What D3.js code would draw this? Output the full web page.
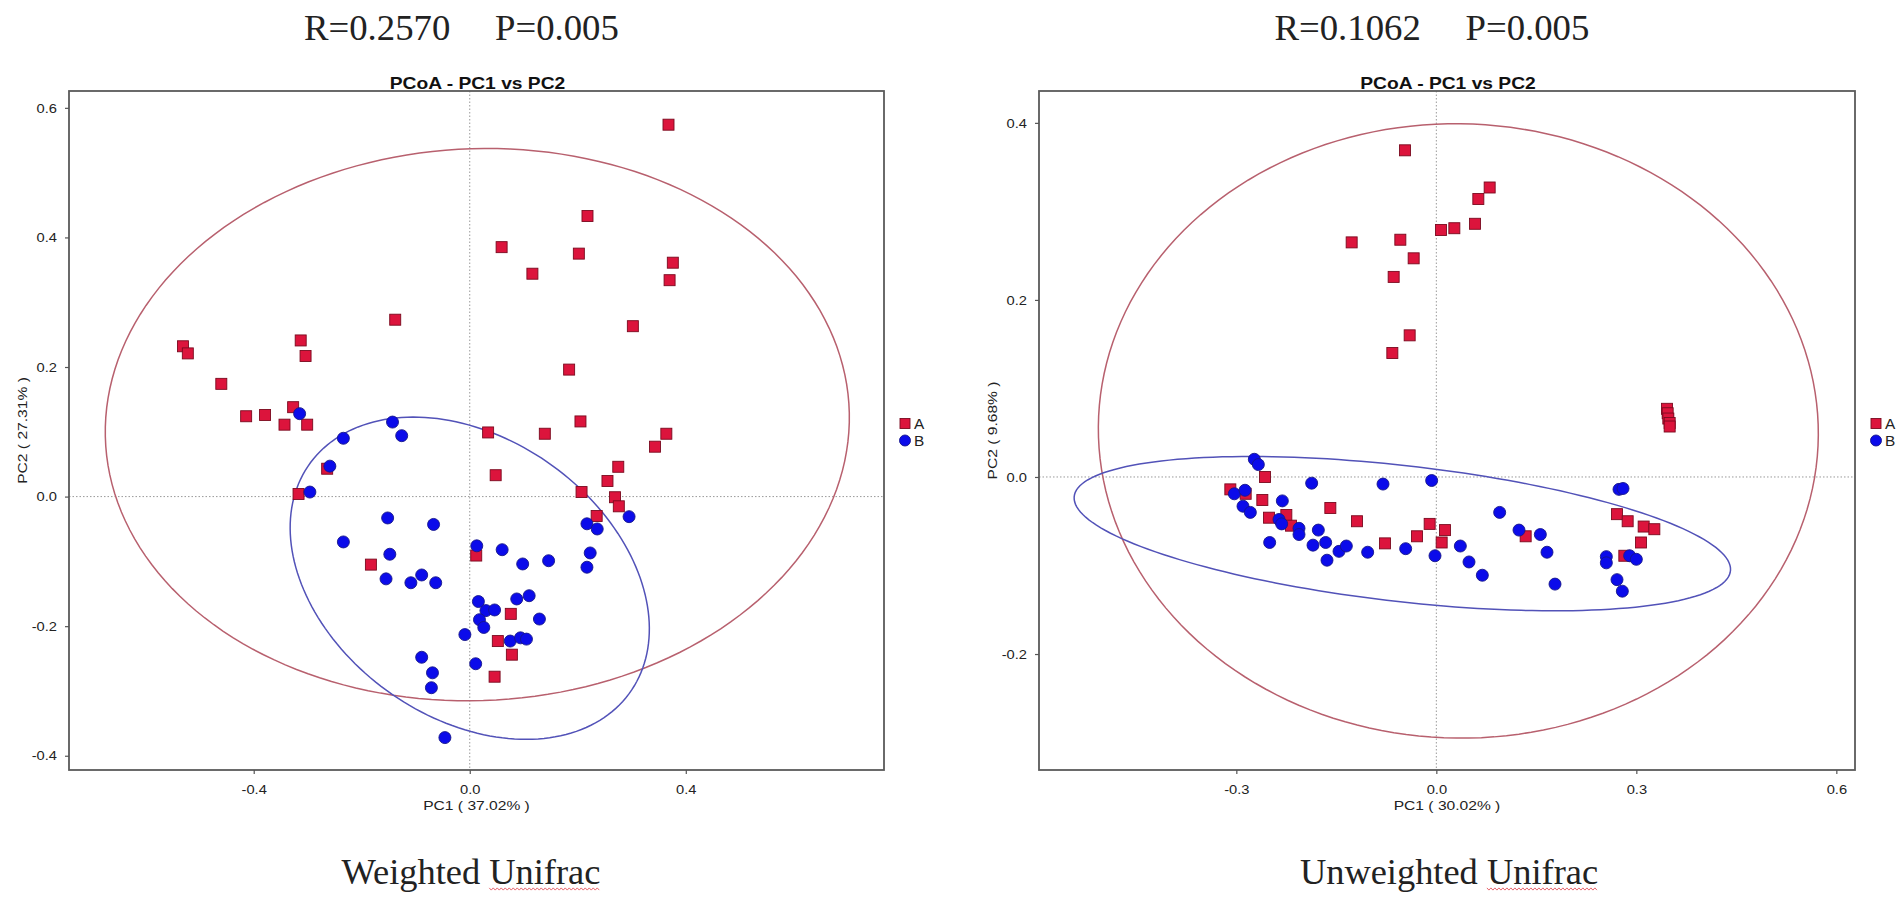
<!DOCTYPE html>
<html>
<head>
<meta charset="utf-8">
<script src="https://cdn.jsdelivr.net/npm/d3@7"></script>
<style>
  body { margin: 0; background: #fff; }
  svg { display: block; }
  .sans { font-family: "Liberation Sans", Arial, Helvetica, sans-serif; }
  .serif { font-family: "Liberation Serif", "Times New Roman", serif; }
  .tick text { font-family: "Liberation Sans", Arial, sans-serif; font-size: 13px; fill: #222; }
  .tick line { stroke: #555; stroke-width: 1.2; }
</style>
</head>
<body>
<svg id="chart" width="1902" height="906"></svg>
<script>
// ---------- data ----------
const groups = ['A', 'B'];

const weightedStats = ['R=0.2570', 'P=0.005'];
const unweightedStats = ['R=0.1062', 'P=0.005'];
const captions = ['Weighted Unifrac', 'Unweighted Unifrac'];
const plotTitle = 'PCoA - PC1 vs PC2';

const weightedAxisTitles = ['PC1 ( 37.02% )', 'PC2 ( 27.31% )'];
const unweightedAxisTitles = ['PC1 ( 30.02% )', 'PC2 ( 9.68% )'];

const weightedXTicks = [-0.4, 0, 0.4];
const weightedYTicks = [-0.4, -0.2, 0, 0.2, 0.4, 0.6];
const unweightedXTicks = [-0.3, 0, 0.3, 0.6];
const unweightedYTicks = [-0.2, 0, 0.2, 0.4];

// axis extents (data units)
const weightedXDomain = [-0.742, 0.767];
const weightedYDomain = [-0.422, 0.626];
const unweightedXDomain = [-0.596, 0.628];
const unweightedYDomain = [-0.331, 0.436];

// [PC1, PC2]
const weightedA = [
  [0.368, 0.574], [0.218, 0.433], [0.059, 0.385], [0.202, 0.375], [0.116, 0.344],
  [0.376, 0.361], [0.370, 0.334], [0.302, 0.263], [-0.138, 0.273], [-0.313, 0.241],
  [-0.304, 0.217], [-0.531, 0.232], [-0.522, 0.221], [-0.460, 0.174], [0.184, 0.196],
  [-0.414, 0.124], [-0.379, 0.126], [-0.327, 0.138], [-0.343, 0.111], [-0.301, 0.111],
  [0.205, 0.116], [0.034, 0.099], [0.139, 0.097], [0.364, 0.097], [0.343, 0.077],
  [0.048, 0.033], [0.275, 0.046], [0.255, 0.024], [0.207, 0.007], [0.269, -0.001],
  [0.276, -0.015], [0.235, -0.030], [-0.317, 0.004], [-0.264, 0.043], [0.012, -0.091],
  [-0.183, -0.105], [0.076, -0.181], [0.052, -0.223], [0.078, -0.244], [0.046, -0.278]
];
const weightedB = [
  [-0.315, 0.128], [-0.143, 0.115], [-0.126, 0.094], [-0.234, 0.090], [-0.259, 0.047],
  [-0.296, 0.007], [-0.152, -0.033], [-0.067, -0.043], [-0.234, -0.070], [-0.148, -0.089],
  [-0.155, -0.127], [-0.109, -0.133], [-0.089, -0.121], [-0.063, -0.133], [0.013, -0.076],
  [0.060, -0.082], [0.098, -0.104], [0.146, -0.099], [0.016, -0.162], [0.087, -0.158],
  [0.110, -0.153], [0.030, -0.176], [0.046, -0.175], [0.018, -0.190], [0.026, -0.202],
  [0.129, -0.189], [-0.009, -0.213], [0.075, -0.223], [0.094, -0.218], [0.105, -0.220],
  [-0.089, -0.248], [0.011, -0.258], [-0.069, -0.272], [-0.071, -0.295], [-0.046, -0.372],
  [0.217, -0.042], [0.236, -0.050], [0.295, -0.031], [0.223, -0.087], [0.217, -0.109]
];
const unweightedA = [
  [-0.047, 0.369], [0.080, 0.327], [0.063, 0.314], [0.058, 0.286], [0.027, 0.281],
  [0.007, 0.279], [-0.127, 0.265], [-0.054, 0.268], [-0.034, 0.247], [-0.064, 0.226],
  [-0.040, 0.160], [-0.066, 0.140], [0.346, 0.077], [0.347, 0.072], [0.348, 0.066],
  [0.350, 0.061], [0.350, 0.057], [-0.309, -0.014], [-0.286, -0.019], [-0.257, 0.000],
  [-0.261, -0.026], [-0.251, -0.046], [-0.225, -0.043], [-0.218, -0.055], [-0.159, -0.035],
  [-0.119, -0.050], [-0.077, -0.075], [-0.029, -0.067], [-0.010, -0.053], [0.013, -0.060],
  [0.008, -0.074], [0.134, -0.067], [0.271, -0.042], [0.287, -0.050], [0.311, -0.056],
  [0.327, -0.059], [0.307, -0.074], [0.282, -0.089]
];
const unweightedB = [
  [-0.273, 0.020], [-0.267, 0.014], [-0.303, -0.019], [-0.287, -0.015], [-0.290, -0.033],
  [-0.279, -0.040], [-0.231, -0.027], [-0.236, -0.048], [-0.232, -0.053], [-0.206, -0.058],
  [-0.206, -0.065], [-0.250, -0.074], [-0.187, -0.007], [-0.177, -0.060], [-0.185, -0.077],
  [-0.166, -0.074], [-0.164, -0.094], [-0.146, -0.084], [-0.135, -0.078], [-0.103, -0.085],
  [-0.080, -0.008], [-0.046, -0.081], [-0.007, -0.004], [-0.002, -0.089], [0.036, -0.078],
  [0.049, -0.096], [0.069, -0.111], [0.095, -0.040], [0.124, -0.060], [0.156, -0.065],
  [0.166, -0.085], [0.178, -0.121], [0.274, -0.014], [0.280, -0.013], [0.255, -0.090],
  [0.255, -0.097], [0.271, -0.116], [0.279, -0.129], [0.290, -0.089], [0.300, -0.093]
];

// group ellipses: [centre PC1, centre PC2, semi-axis a, semi-axis b, angle deg]
const weightedEllipseA = [0.014, 0.111, 0.689, 0.426, 1.5];
const weightedEllipseB = [0.000, -0.126, 0.349, 0.225, -23.4];
const unweightedEllipseA = [0.033, 0.052, 0.540, 0.347, -0.5];
const unweightedEllipseB = [-0.051, -0.064, 0.494, 0.077, -4.8];

// ---------- styling ----------
const fill = { A: '#dc143c', B: '#0b0bea' };
const edge = { A: '#7a0a1f', B: '#16168a' };
const ringColor = { A: '#b8606e', B: '#5252b8' };

const svg = d3.select('#chart');
const fmt = v => v.toFixed(1);

function stretch(sel, k) {
  sel.each(function() {
    const len = this.getComputedTextLength();
    d3.select(this)
      .attr('textLength', len * k)
      .attr('lengthAdjust', 'spacingAndGlyphs');
  });
  return sel;
}

function ellipsePath(e, x, y) {
  const [cx, cy, a, b, deg] = e;
  const th = deg * Math.PI / 180;
  const pts = d3.range(0, 2 * Math.PI, Math.PI / 90).map(t => [
    x(cx + a * Math.cos(t) * Math.cos(th) - b * Math.sin(t) * Math.sin(th)),
    y(cy + a * Math.cos(t) * Math.sin(th) + b * Math.sin(t) * Math.cos(th))
  ]);
  return d3.line().curve(d3.curveLinearClosed)(pts);
}

function drawMarker(sel, grp, size) {
  if (grp === 'A') {
    sel.append('rect')
      .attr('x', -size / 2).attr('y', -size / 2)
      .attr('width', size).attr('height', size);
  } else {
    sel.append('circle').attr('r', size / 2 + 0.5);
  }
  sel.attr('fill', fill[grp]).attr('stroke', edge[grp]).attr('stroke-width', 0.9);
}

// spell-check squiggle under a word of a caption
function squiggle(node, word) {
  const txt = node.textContent;
  const i0 = txt.indexOf(word);
  const i1 = i0 + word.length - 1;
  const x0 = node.getStartPositionOfChar(i0).x;
  const x1 = node.getEndPositionOfChar(i1).x;
  const yb = node.getStartPositionOfChar(i0).y + 5;
  const pts = d3.range(x0, x1, 2).map((px, i) => [px, yb + (i % 2 ? 1.1 : -1.1)]);
  svg.append('path')
    .attr('d', d3.line()(pts))
    .attr('fill', 'none')
    .attr('stroke', '#e0404a')
    .attr('stroke-width', 0.8);
}

function drawPanel(p) {
  const [left, top, right, bottom] = p.frame;
  const x = d3.scaleLinear().domain(p.xDomain).range([left, right]);
  const y = d3.scaleLinear().domain(p.yDomain).range([bottom, top]);
  const cx = (left + right) / 2;
  const g = svg.append('g');

  // zero reference lines
  g.append('line')
    .attr('x1', x(0)).attr('x2', x(0)).attr('y1', top).attr('y2', bottom)
    .attr('stroke', '#9a9a9a').attr('stroke-dasharray', '1.5,2');
  g.append('line')
    .attr('x1', left).attr('x2', right).attr('y1', y(0)).attr('y2', y(0))
    .attr('stroke', '#9a9a9a').attr('stroke-dasharray', '1.5,2');

  // group ellipses
  groups.forEach(grp => {
    g.append('path')
      .attr('d', ellipsePath(p.ellipses[grp], x, y))
      .attr('fill', 'none')
      .attr('stroke', ringColor[grp])
      .attr('stroke-width', 1.5);
  });

  // samples
  groups.forEach(grp => {
    g.append('g').selectAll('g')
      .data(p.points[grp])
      .join('g')
      .attr('transform', d => `translate(${x(d[0])},${y(d[1])})`)
      .each(function() { drawMarker(d3.select(this), grp, 11); });
  });

  g.append('rect')
    .attr('x', left).attr('y', top)
    .attr('width', right - left).attr('height', bottom - top)
    .attr('fill', 'none').attr('stroke', '#5a5a5a').attr('stroke-width', 1.8);

  // axes
  const ax = g.append('g')
    .attr('transform', `translate(0,${bottom})`)
    .call(d3.axisBottom(x).tickValues(p.xTicks).tickFormat(fmt).tickSize(4).tickPadding(11));
  const ay = g.append('g')
    .attr('transform', `translate(${left},0)`)
    .call(d3.axisLeft(y).tickValues(p.yTicks).tickFormat(fmt).tickSize(4).tickPadding(8));
  [ax, ay].forEach(a => {
    a.select('.domain').remove();
    stretch(a.selectAll('.tick text'), 1.13);
  });

  // axis titles
  stretch(g.append('text')
    .attr('class', 'sans')
    .attr('x', cx).attr('y', bottom + 40)
    .attr('text-anchor', 'middle')
    .attr('font-size', 13).attr('fill', '#222')
    .text(p.axisTitles[0]), 1.2);
  stretch(g.append('text')
    .attr('class', 'sans')
    .attr('transform', `translate(${left - 42},${(top + bottom) / 2}) rotate(-90)`)
    .attr('text-anchor', 'middle')
    .attr('font-size', 13).attr('fill', '#222')
    .text(p.axisTitles[1]), 1.2);

  // plot title
  stretch(g.append('text')
    .attr('class', 'sans')
    .attr('x', cx + 1).attr('y', top - 2)
    .attr('text-anchor', 'middle')
    .attr('font-size', 17).attr('font-weight', 'bold').attr('fill', '#111')
    .text(plotTitle), 1.13);

  // legend
  const lg = g.append('g').attr('transform', `translate(${right + 21},${(top + bottom) / 2 - 7})`);
  groups.forEach((grp, i) => {
    const item = lg.append('g').attr('transform', `translate(0,${i * 17})`);
    drawMarker(item.append('g'), grp, 10);
    stretch(item.append('text')
      .attr('class', 'sans')
      .attr('x', 9).attr('y', 5)
      .attr('font-size', 14).attr('fill', '#222')
      .text(grp), 1.1);
  });

  // R / P statistics above the plot
  const st = g.append('g').attr('class', 'serif').attr('font-size', 35).attr('fill', '#222');
  stretch(st.append('text').attr('x', cx - 172.5).attr('y', 40).text(p.stats[0]), 1.05);
  stretch(st.append('text').attr('x', cx + 18.5).attr('y', 40).text(p.stats[1]), 1.05);

  // caption below
  const cap = svg.append('text')
    .attr('class', 'serif')
    .attr('x', p.captionX).attr('y', 884)
    .attr('text-anchor', 'middle')
    .attr('font-size', 35).attr('fill', '#222')
    .text(p.caption);
  stretch(cap, 1.04);
  squiggle(cap.node(), 'Unifrac');
}

drawPanel({
  frame: [69, 91, 884, 770],
  xDomain: weightedXDomain, yDomain: weightedYDomain,
  xTicks: weightedXTicks, yTicks: weightedYTicks,
  axisTitles: weightedAxisTitles,
  points: { A: weightedA, B: weightedB },
  ellipses: { A: weightedEllipseA, B: weightedEllipseB },
  stats: weightedStats,
  caption: captions[0], captionX: 471
});

drawPanel({
  frame: [1039, 91, 1855, 770],
  xDomain: unweightedXDomain, yDomain: unweightedYDomain,
  xTicks: unweightedXTicks, yTicks: unweightedYTicks,
  axisTitles: unweightedAxisTitles,
  points: { A: unweightedA, B: unweightedB },
  ellipses: { A: unweightedEllipseA, B: unweightedEllipseB },
  stats: unweightedStats,
  caption: captions[1], captionX: 1449
});
</script>
</body>
</html>
